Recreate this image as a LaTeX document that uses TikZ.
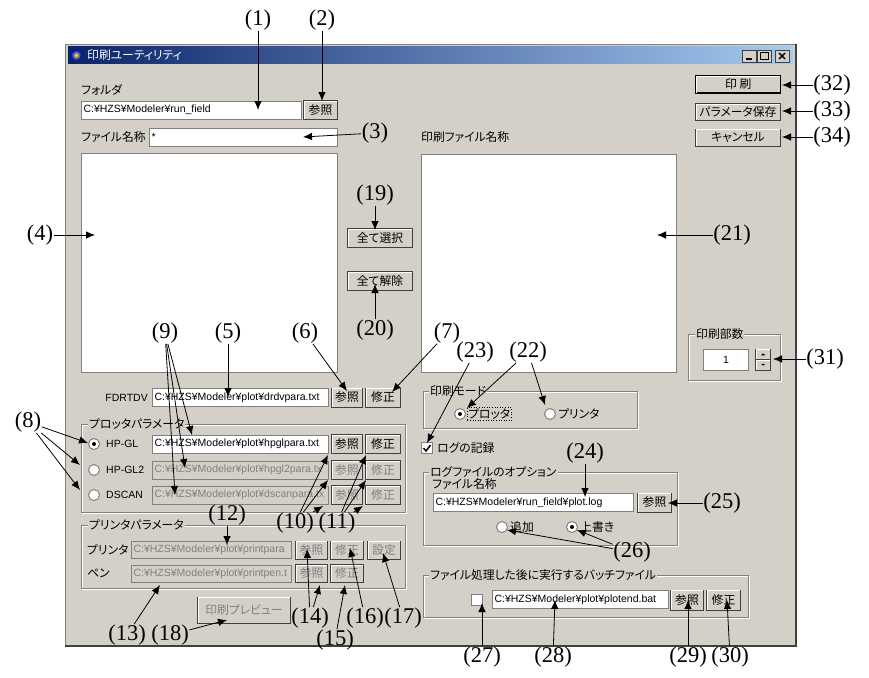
\documentclass[tikz,border=0pt]{standalone}
\usepackage{fontspec}
\usepackage{xcolor}
\usetikzlibrary{positioning}
\usetikzlibrary{arrows.meta}
\usetikzlibrary{calc}
\setmainfont{Liberation Serif}
\newfontfamily\jpfont{Noto Sans CJK JP}[CharacterWidth=AlternateProportional]
\newfontfamily\latfont{Liberation Sans}
\newcommand{\jpf}{\jpfont\fontsize{11.8}{13}\selectfont}
\newcommand{\latf}{\latfont\fontsize{10.5}{12}\selectfont}
\newcommand{\callf}{\rmfamily\fontsize{22.5}{24}\selectfont}
\definecolor{uigray}{HTML}{D4D0C8}
\definecolor{uidark}{HTML}{808080}
\definecolor{uishadow}{HTML}{404040}
\definecolor{titleL}{HTML}{0A246A}
\definecolor{titleR}{HTML}{A6CAF0}

\begin{document}
\begin{tikzpicture}[
	x=1pt, y=-1pt,
	lbl/.style={font=\callf, inner sep=0.5pt},
	call/.style={-{Latex[length=9pt,width=7.5pt]}, line width=0.8pt},
	jpl/.style={font=\jpf, inner sep=1pt, anchor=west},
	latl/.style={font=\latf, inner sep=1pt, anchor=west},
	grplbl/.style={font=\jpf, inner sep=1pt, anchor=west, fill=uigray},
	grp/.style={draw=uidark, line width=0.8pt},
	grpw/.style={draw=white, line width=0.8pt},
	tbox/.style={rectangle, draw=uidark, fill=white, line width=1pt, minimum height=18pt, text width=#1, inner xsep=2pt, inner ysep=0pt, anchor=west, align=left, font=\latf},
	dbox/.style={tbox=#1, fill=uigray, text=uidark},
	raised/.style={append after command={
		([shift={(1pt,1pt)}]\tikzlastnode.south west) edge[draw=white, line width=1pt] ([shift={(1pt,-1pt)}]\tikzlastnode.north west)
		([shift={(1pt,-1pt)}]\tikzlastnode.north west) edge[draw=white, line width=1pt] ([shift={(-1pt,-1pt)}]\tikzlastnode.north east)}},
	btn/.style={rectangle, draw=uishadow, fill=uigray, line width=1pt, minimum width=#1, minimum height=19pt, inner sep=0pt, anchor=west, font=\jpf, raised},
	dbtn/.style={btn=#1, text=uidark},
	wbtn/.style={rectangle, draw=uishadow, fill=uigray, line width=0.8pt, minimum width=14pt, minimum height=12pt, inner sep=0pt},
	lst/.style={rectangle, draw=uidark, fill=white, line width=1.2pt, anchor=north west, inner sep=0pt},
	radio/.style={circle, draw=uidark, fill=white, line width=1pt, minimum size=11pt, inner sep=0pt},
	chk/.style={rectangle, draw=uidark, fill=white, line width=1pt, minimum size=11pt, inner sep=0pt},
	]

	\useasboundingbox (0,0) rectangle (869,677);
	\fill[white] (0,0) rectangle (869,677);

	% window
	\fill[uigray] (65,44) rectangle (796,646);
	\draw[uidark, line width=1pt] (65.5,44.5) rectangle (795.5,645.5);
	\draw[uishadow, line width=1.5pt] (796,44) -- (796,646) -- (65,646);
	\shade[left color=titleL, right color=titleR] (68,47) rectangle (793,63);
	\shade[inner color=yellow, outer color=blue] (76,55) circle[radius=5pt];
	\node[jpl, text=white] (title) at (86,55) {印刷ユーティリティ};
	\node[wbtn] (wMin) at (749,56) {};
	\node[wbtn] (wMax) at (764,56) {};
	\node[wbtn] (wCls) at (782,56) {};
	\draw[line width=2pt] ([shift={(-3pt,-3pt)}]wMin.center) -- ++(6,0);
	\draw[line width=0.8pt] ([shift={(-4pt,-3.5pt)}]wMax.center) rectangle ([shift={(4pt,3.5pt)}]wMax.center);
	\draw[line width=1.4pt] ([shift={(-3pt,-3pt)}]wCls.center) -- ([shift={(3pt,3pt)}]wCls.center);
	\draw[line width=1.4pt] ([shift={(-3pt,3pt)}]wCls.center) -- ([shift={(3pt,-3pt)}]wCls.center);

	% folder and file name
	\node[jpl] (fldLbl) at (80,90) {フォルダ};
	\node[tbox=216pt] (fld) at (81,110) {C:¥HZS¥Modeler¥run\_field};
	\node[btn=34pt] (fldRef) at (303,110) {参照};
	\node[jpl] (fnLbl) at (80,137) {ファイル名称};
	\node[tbox=184pt] (fname) at (149,137) {*};
	\node[lst, minimum width=256pt, minimum height=219pt] (srcList) at (81,153) {};
	\node[btn=65pt] (selAll) at (347,238) {全て選択};
	\node[btn=65pt] (clrAll) at (347,281) {全て解除};
	\node[jpl] (outLbl) at (420,137) {印刷ファイル名称};
	\node[lst, minimum width=255pt, minimum height=218pt] (outList) at (421,154) {};

	% right buttons
	\node[btn=85pt, minimum height=17pt, draw=black, line width=1.4pt] (print) at (695,84.5) {印 刷};
	\node[btn=85pt, minimum height=17pt] (saveP) at (695,112) {パラメータ保存};
	\node[btn=85pt, minimum height=17pt] (cancel) at (695,137.5) {キャンセル};

	% copies
	\draw[grpw] (689,335) rectangle (781,381);
	\draw[grp] (688,334) rectangle (780,380);
	\node[grplbl] (copLbl) at (695,334) {印刷部数};
	\node[tbox=41pt, align=center, minimum height=21pt] (copies) at (703,359.5) {1};
	\node[btn=15pt, minimum height=10.5pt] (spinUp) at (755,354.25) {};
	\node[btn=15pt, minimum height=10.5pt] (spinDn) at (755,364.75) {};
	\fill ([shift={(-2pt,-1pt)}]spinUp.center) -- ++(4,0) -- ++(-2,-2) -- cycle;
	\fill ([shift={(-2pt,1pt)}]spinDn.center) -- ++(4,0) -- ++(-2,2) -- cycle;

	% FDRTDV
	\node[latl, anchor=east] (fdLbl) at (149,397.5) {FDRTDV};
	\node[tbox=172pt] (fdBox) at (152,397.5) {C:¥HZS¥Modeler¥plot¥drdvpara.txt};
	\node[btn=31pt] (fdRef) at (331,397.5) {参照};
	\node[btn=35pt] (fdMod) at (365,397.5) {修正};

	% plotter parameters
	\draw[grpw] (82,425) rectangle (406,513);
	\draw[grp] (81,424) rectangle (405,512);
	\node[grplbl] (plLbl) at (88,424) {プロッタパラメータ};
	\node[radio] (rHpgl) at (94,444) {};
	\fill (rHpgl) circle[radius=2pt];
	\node[radio] (rHpgl2) at (94,470) {};
	\node[radio] (rDscan) at (94,495) {};
	\node[latl] (hpglLbl) at (105,444) {HP-GL};
	\node[latl] (hpgl2Lbl) at (105,470) {HP-GL2};
	\node[latl] (dscanLbl) at (105,495) {DSCAN};
	\node[tbox=172pt] (hpglBox) at (152,444) {C:¥HZS¥Modeler¥plot¥hpglpara.txt};
	\node[dbox=172pt] (hpgl2Box) at (152,470) {C:¥HZS¥Modeler¥plot¥hpgl2para.tx};
	\node[dbox=172pt] (dscanBox) at (152,495) {C:¥HZS¥Modeler¥plot¥dscanpara.tx};
	\node[btn=31pt] (hpglRef) at (331,444) {参照};
	\node[btn=35pt] (hpglMod) at (365,444) {修正};
	\node[dbtn=31pt] (hpgl2Ref) at (331,470) {参照};
	\node[dbtn=35pt] (hpgl2Mod) at (365,470) {修正};
	\node[dbtn=31pt] (dscanRef) at (331,495) {参照};
	\node[dbtn=35pt] (dscanMod) at (365,495) {修正};

	% printer parameters
	\draw[grpw] (82,526) rectangle (406,589);
	\draw[grp] (81,525) rectangle (405,588);
	\node[grplbl] (prLbl) at (88,525) {プリンタパラメータ};
	\node[jpl] (prnLbl) at (86,550) {プリンタ};
	\node[jpl] (penLbl) at (86,573.5) {ペン};
	\node[dbox=156pt, minimum height=17pt] (prnBox) at (131,550) {C:¥HZS¥Modeler¥plot¥printpara};
	\node[dbox=156pt, minimum height=17pt] (penBox) at (131,573.5) {C:¥HZS¥Modeler¥plot¥printpen.t};
	\node[dbtn=32pt, minimum height=18pt] (prnRef) at (295,550) {参照};
	\node[dbtn=33pt, minimum height=18pt] (prnMod) at (330,550) {修正};
	\node[dbtn=33pt, minimum height=18pt] (prnSet) at (367,550) {設定};
	\node[dbtn=32pt, minimum height=18pt] (penRef) at (295,573.5) {参照};
	\node[dbtn=33pt, minimum height=18pt] (penMod) at (330,573.5) {修正};
	\node[dbtn=93pt, minimum height=26pt] (preview) at (197,610) {印刷プレビュー};

	% print mode
	\draw[grpw] (424,392) rectangle (638,429);
	\draw[grp] (423,391) rectangle (637,428);
	\node[grplbl] (modeLbl) at (429,391) {印刷モード};
	\node[radio] (rPlot) at (460,414) {};
	\fill (rPlot) circle[radius=2pt];
	\node[jpl, draw, dotted, line width=0.6pt] (plotLbl) at (467,414) {プロッタ};
	\node[radio] (rPrint) at (550,414) {};
	\node[jpl] (printLbl) at (557,414) {プリンタ};

	% log
	\node[chk] (logChk) at (427,448) {};
	\draw[line width=1.5pt] ([shift={(-3.5pt,0pt)}]logChk.center) -- ([shift={(-1pt,-3pt)}]logChk.center) -- ([shift={(3.5pt,3pt)}]logChk.center);
	\node[jpl] (logLbl) at (436,448) {ログの記録};
	\draw[grpw] (424,473) rectangle (678,546);
	\draw[grp] (423,472) rectangle (677,545);
	\node[grplbl] (logOpt) at (429,472) {ログファイルのオプション};
	\node[jpl] (logFn) at (431,484) {ファイル名称};
	\node[tbox=196pt] (logBox) at (433,502.5) {C:¥HZS¥Modeler¥run\_field¥plot.log};
	\node[btn=34pt] (logRef) at (637,502.5) {参照};
	\node[radio] (rAdd) at (502,527) {};
	\node[jpl] (addLbl) at (509,527) {追加};
	\node[radio] (rOver) at (572,527) {};
	\fill (rOver) circle[radius=2pt];
	\node[jpl] (overLbl) at (579,527) {上書き};

	% batch file
	\draw[grpw] (424,576) rectangle (749,618);
	\draw[grp] (423,575) rectangle (748,617);
	\node[grplbl] (batLbl) at (429,575) {ファイル処理した後に実行するバッチファイル};
	\node[chk] (batChk) at (477,600) {};
	\node[tbox=172pt] (batBox) at (492,599.5) {C:¥HZS¥Modeler¥plot¥plotend.bat};
	\node[btn=33pt, minimum height=20pt] (batRef) at (670,600) {参照};
	\node[btn=34pt, minimum height=20pt] (batMod) at (706,600) {修正};

	% callouts
	\node[lbl] (c1) at (258,20) {(1)};
	\node[lbl] (c2) at (322,20) {(2)};
	\node[lbl] (c3) at (375,133) {(3)};
	\node[lbl] (c4) at (40,235) {(4)};
	\node[lbl] (c5) at (228,333) {(5)};
	\node[lbl] (c6) at (305,333) {(6)};
	\node[lbl] (c7) at (447,333) {(7)};
	\node[lbl] (c8) at (28,422) {(8)};
	\node[lbl] (c9) at (165,333) {(9)};
	\node[lbl] (c10) at (295,523) {(10)};
	\node[lbl] (c11) at (337,523) {(11)};
	\node[lbl] (c12) at (227,515) {(12)};
	\node[lbl] (c13) at (127,635) {(13)};
	\node[lbl] (c14) at (310,618) {(14)};
	\node[lbl] (c15) at (335,640) {(15)};
	\node[lbl] (c16) at (365,618) {(16)};
	\node[lbl] (c17) at (403,618) {(17)};
	\node[lbl] (c18) at (170,635) {(18)};
	\node[lbl] (c19) at (375,195) {(19)};
	\node[lbl] (c20) at (375,330) {(20)};
	\node[lbl] (c21) at (732,235) {(21)};
	\node[lbl] (c22) at (528,352) {(22)};
	\node[lbl] (c23) at (475,352) {(23)};
	\node[lbl] (c24) at (585,453) {(24)};
	\node[lbl] (c25) at (722,503) {(25)};
	\node[lbl] (c26) at (632,552) {(26)};
	\node[lbl] (c27) at (482,657) {(27)};
	\node[lbl] (c28) at (553,657) {(28)};
	\node[lbl] (c29) at (688,657) {(29)};
	\node[lbl] (c30) at (730,657) {(30)};
	\node[lbl] (c31) at (825,359) {(31)};
	\node[lbl] (c32) at (832,85) {(32)};
	\node[lbl] (c33) at (832,111) {(33)};
	\node[lbl] (c34) at (832,137) {(34)};

	\coordinate (t1) at (258,110);
	\coordinate (t2) at (322,101);
	\coordinate (t3) at (303,137);
	\coordinate (t4) at (95,235);
	\coordinate (t5) at (228,397);
	\coordinate (t6) at (347,391);
	\coordinate (t7) at (392,392);
	\coordinate (t8a) at (88,443);
	\coordinate (t8b) at (80,465);
	\coordinate (t8c) at (80,490);
	\coordinate (t9a) at (192,435);
	\coordinate (t9b) at (185,468);
	\coordinate (t9c) at (175,495);
	\coordinate (t10a) at (328,455);
	\coordinate (t10b) at (328,480);
	\coordinate (t10c) at (323,506);
	\coordinate (t11a) at (366,455);
	\coordinate (t11b) at (366,480);
	\coordinate (t11c) at (363,506);
	\coordinate (t12) at (227,545);
	\coordinate (t13) at (160,585);
	\coordinate (t14a) at (307,549);
	\coordinate (t14b) at (320,585);
	\coordinate (t15) at (345,585);
	\coordinate (t16) at (350,548);
	\coordinate (t17) at (383,553);
	\coordinate (t18) at (227,620);
	\coordinate (t19) at (375,230);
	\coordinate (t20) at (375,284);
	\coordinate (t21) at (657,235);
	\coordinate (t22a) at (467,408);
	\coordinate (t22b) at (545,405);
	\coordinate (t23) at (427,443);
	\coordinate (t24) at (585,497);
	\coordinate (t25) at (668,503);
	\coordinate (t26a) at (507,530);
	\coordinate (t26b) at (577,530);
	\coordinate (t27) at (482,603);
	\coordinate (t28) at (555,600);
	\coordinate (t29) at (688,600);
	\coordinate (t30) at (727,600);
	\coordinate (t31) at (773,359);
	\coordinate (t32) at (782,85);
	\coordinate (t33) at (782,111);
	\coordinate (t34) at (782,137);

	\draw[call] (c1) -- (t1);
	\draw[call] (c2) -- (t2);
	\draw[call] (c3) -- (t3);
	\draw[call] (c4) -- (t4);
	\draw[call] (c5) -- (t5);
	\draw[call] (c6) -- (t6);
	\draw[call] (c7) -- (t7);
	\draw[call] (c8) -- (t8a);
	\draw[call] (c8) -- (t8b);
	\draw[call] (c8) -- (t8c);
	\draw[call] (c9) -- (t9a);
	\draw[call] (c9) -- (t9b);
	\draw[call] (c9) -- (t9c);
	\draw[call] (c10) -- (t10a);
	\draw[call] (c10) -- (t10b);
	\draw[call] (c10) -- (t10c);
	\draw[call] (c11) -- (t11a);
	\draw[call] (c11) -- (t11b);
	\draw[call] (c11) -- (t11c);
	\draw[call] (c12) -- (t12);
	\draw[call] (c13) -- (t13);
	\draw[call] (c14) -- (t14a);
	\draw[call] (c14) -- (t14b);
	\draw[call] (c15) -- (t15);
	\draw[call] (c16) -- (t16);
	\draw[call] (c17) -- (t17);
	\draw[call] (c18) -- (t18);
	\draw[call] (c19) -- (t19);
	\draw[call] (c20) -- (t20);
	\draw[call] (c21) -- (t21);
	\draw[call] (c22) -- (t22a);
	\draw[call] (c22) -- (t22b);
	\draw[call] (c23) -- (t23);
	\draw[call] (c24) -- (t24);
	\draw[call] (c25) -- (t25);
	\draw[call] (c26) -- (t26a);
	\draw[call] (c26) -- (t26b);
	\draw[call] (c27) -- (t27);
	\draw[call] (c28) -- (t28);
	\draw[call] (c29) -- (t29);
	\draw[call] (c30) -- (t30);
	\draw[call] (c31) -- (t31);
	\draw[call] (c32) -- (t32);
	\draw[call] (c33) -- (t33);
	\draw[call] (c34) -- (t34);

\end{tikzpicture}
\end{document}
